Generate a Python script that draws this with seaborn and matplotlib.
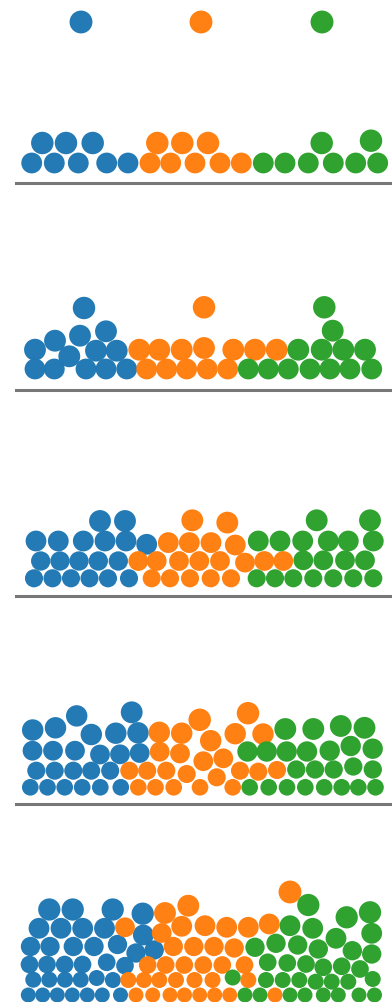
import matplotlib
matplotlib.use("Agg")
import matplotlib.pyplot as plt
import seaborn as sns
import pandas as pd

# Piles of falling balls: each entry is (x position, height above the floor, radius)
# for one ball, grouped by colour and by stage of the pile-up.
top_a = [(81, 23, 11)]
top_b = [(201, 23, 11)]
top_c = [(322, 23, 11)]

pile1_a = [(31.7, 20, 10), (54.3, 20, 10), (78.3, 20, 10), (106.7, 20, 10), (128, 20, 10),
           (42.3, 40, 10.8), (66, 40, 10.8), (92.7, 40, 10.8)]
pile1_b = [(150, 20, 10), (170.7, 20, 10), (195, 20, 10), (220, 20, 10), (241.3, 20, 10),
           (157.3, 40, 10.8), (182.3, 40, 10.8), (208, 40, 10.8)]
pile1_c = [(263.3, 20, 10), (285, 20, 10), (308.3, 20, 10), (333.3, 20, 10), (355.7, 20, 10),
           (377.7, 20, 10), (321.7, 40, 10.8), (371, 42.3, 10.8)]

pile2_a = [(35, 20.5, 10), (54.3, 20.5, 10), (86, 20.5, 10), (106, 20.5, 10), (126.7, 20.5, 10),
           (35, 39.8, 10.5), (69.3, 33.2, 10.5), (96, 38.8, 10.5), (116.7, 38.8, 10.5),
           (55, 48.8, 10.5), (80, 53.8, 10.5), (106, 58.2, 10.5), (84, 81.5, 10.8)]
pile2_b = [(146.7, 20.5, 10), (166.7, 20.5, 10), (186.7, 20.5, 10), (207.3, 20.5, 10), (227.7, 20.5, 10),
           (139.3, 39.8, 10.5), (159.3, 39.8, 10.5), (181.7, 39.8, 10.5), (204, 41.5, 10.5),
           (233.3, 39.8, 10.5), (255, 39.8, 10.5), (276.7, 39.8, 10.5), (204, 82.2, 10.8)]
pile2_c = [(248.3, 20.5, 10), (268.3, 20.5, 10), (288.3, 20.5, 10), (310, 20.5, 10), (330, 20.5, 10),
           (350, 20.5, 10), (371.7, 20.5, 10), (298.3, 39.8, 10.5), (321.7, 39.8, 10.5),
           (343.3, 39.8, 10.5), (365, 39.8, 10.5), (332.7, 58.8, 10.5), (324.3, 82.2, 10.8)]

pile3_a = [(34, 17.7, 8.7), (52.5, 17.7, 8.7), (71, 17.7, 8.7), (89.5, 17.7, 8.7), (108, 17.7, 8.7),
           (129, 17.7, 8.7), (40.7, 35, 9.3), (60, 35, 9.3), (79, 35, 9.3), (98.3, 35, 9.3),
           (118.3, 35, 9.3), (36, 55, 10), (58.3, 55, 10), (83.3, 55, 10), (105, 55, 10),
           (126, 55, 10), (146.7, 51.7, 10), (100, 75, 10.5), (125, 75, 10.5)]
pile3_b = [(151.7, 17.7, 8.7), (170, 17.7, 8.7), (190, 17.7, 8.7), (210.7, 17.7, 8.7), (231, 17.7, 8.7),
           (138.3, 35, 9.5), (156.7, 35, 9.5), (179, 35, 9.5), (199.3, 35, 9.5), (220, 35, 9.5),
           (245, 33.4, 9.5), (264.3, 35, 9.5), (283.3, 35, 9.5), (168.3, 53.4, 10), (189.3, 53.4, 10),
           (211, 53.4, 10), (235.3, 51, 10), (192.3, 75.7, 10.5), (227.3, 73.4, 10.5)]
pile3_c = [(256.7, 17.7, 8.7), (275, 17.7, 8.7), (293.3, 17.7, 8.7), (313.3, 17.7, 8.7),
           (333.3, 17.7, 8.7), (353.3, 17.7, 8.7), (373.3, 17.7, 8.7), (303.3, 35.7, 9.5),
           (323.3, 35.7, 9.5), (345, 35.7, 9.5), (365, 35.7, 9.5), (258.3, 55, 10), (280, 55, 10),
           (302.7, 55, 10), (328.3, 55, 10), (348.3, 55, 10), (373.3, 55, 10),
           (316.7, 75.7, 10.5), (370, 75.7, 10.5)]

pile4_a = [(30.3, 16.7, 8), (47.5, 16.7, 8), (64.7, 16.7, 8), (82.2, 16.7, 8), (100.3, 16.7, 8),
           (120.8, 16.7, 8), (36.3, 33.3, 8.7), (54.7, 33.3, 8.7), (73.3, 33.3, 8.7), (91.2, 33.3, 8.7),
           (110.2, 33.3, 8.7), (32.5, 53.3, 9.5), (53, 53.3, 9.5), (75, 53.3, 9.5), (100, 49.5, 9.5),
           (120, 49.7, 9.5), (139.7, 51, 9.5), (32.7, 74, 10.3), (55.5, 76.2, 10.3), (91.3, 69.5, 10.3),
           (115.8, 70.8, 10.3), (138, 71.2, 10.3), (76.7, 88.1, 10.3), (131.7, 91.7, 10.5)]
pile4_b = [(138.3, 16.7, 8), (155.5, 16.7, 8), (173.7, 16.7, 8), (200, 16.7, 8), (232.7, 16.7, 8),
           (129.3, 33.3, 8.7), (147.2, 33.3, 8.7), (166.3, 33.3, 8.7), (186.7, 30, 8.7),
           (216.7, 26.7, 8.7), (240, 33.3, 8.7), (258.3, 32.3, 8.7), (277, 34, 8.7),
           (159.7, 52.3, 9.5), (180, 50.5, 9.5), (203.3, 42.8, 9.5), (223.3, 45.7, 9.5),
           (159.3, 71.7, 10.3), (181.7, 70.8, 10.3), (210.7, 63.3, 10.3), (235.2, 70.3, 10.3),
           (263, 70, 10.3), (199.7, 84.2, 10.8), (248, 90.8, 10.8)]
pile4_c = [(249.7, 16.7, 8), (268.7, 16.7, 8), (287, 16.7, 8), (305.3, 16.7, 8), (324.2, 16.7, 8),
           (341.7, 16.7, 8), (358.3, 16.7, 8), (375.5, 16.7, 8), (296.3, 34.5, 8.8), (315, 34.5, 8.8),
           (333.7, 34.5, 8.8), (353.3, 37.5, 8.8), (372.8, 34.5, 8.8), (247.5, 52.5, 9.8),
           (266.7, 52.5, 9.8), (286.7, 52.5, 9.8), (307, 52.5, 9.8), (329.7, 53.3, 9.8),
           (350.7, 58, 9.8), (372.7, 55.3, 9.8), (285.3, 75, 10.5), (313.3, 75, 10.5),
           (340.8, 78, 10.5), (364.5, 76.2, 10.5)]

pile5_a = [(28.3, 16, 7.2), (42.7, 16, 7.2), (57.3, 16, 7.2), (72.3, 16, 7.2), (87.3, 16, 7.2),
           (102.3, 16, 7.2), (120.5, 16, 7.2), (33.3, 31.3, 7.7), (49.3, 31.3, 7.7), (65, 31.3, 7.7),
           (80.7, 31.3, 7.7), (96.7, 33, 7.7), (112.9, 31, 7.7), (29.5, 46.5, 8.5), (47, 46.5, 8.5),
           (64.7, 46.5, 8.5), (82.5, 46.5, 8.5), (106.7, 48.7, 8.5), (125, 45.3, 8.5),
           (30.5, 64.5, 9.3), (50, 64.5, 9.3), (73.3, 64.5, 9.3), (94, 64.5, 9.3), (117.5, 66.5, 9.3),
           (136, 58, 9.3), (154.2, 61, 9.3), (39, 82.7, 10), (61, 82.7, 10), (82.7, 82.7, 10),
           (104.5, 82.7, 10), (143.3, 76, 10), (49.3, 101.5, 10.7), (72.7, 101.5, 10.7),
           (112.7, 101.5, 10.7), (142.7, 97.3, 10.7)]
pile5_b = [(136, 16, 7.2), (152.7, 16, 7.2), (170, 16, 7.2), (184.5, 16, 7.2), (199.7, 16, 7.2),
           (214.7, 16, 7.2), (229.7, 16, 7.2), (275, 16, 7.2), (128.3, 31, 7.7), (144, 31, 7.7),
           (159.3, 31, 7.7), (176, 31, 7.7), (194.5, 31, 7.7), (212.5, 31, 7.7), (248.3, 31, 7.7),
           (147.7, 46, 8.5), (165.7, 46, 8.5), (184.3, 46, 8.5), (203.3, 46, 8.5), (222.3, 46, 8.5),
           (244.5, 46, 8.5), (173.3, 64.5, 9.3), (193.8, 64.5, 9.3), (214, 64.5, 9.3),
           (234.2, 63, 9.3), (125, 83.7, 9.5), (161.7, 78, 9.5), (181.7, 84.7, 10), (205, 85.3, 10),
           (226.7, 83.7, 10), (248.3, 83.7, 10), (269.3, 87, 10), (165, 98, 10.5),
           (188.3, 105.3, 10.5), (290, 119, 11)]
pile5_c = [(245, 16, 7.2), (260, 16, 7.2), (290, 16, 7.2), (305, 16, 7.2), (323.3, 16, 7.2),
           (338.3, 16, 7.2), (359, 16, 7.2), (374.5, 16, 7.2), (232.7, 33.5, 7.7), (266, 31, 7.7),
           (282.7, 31, 7.7), (299.3, 31, 7.7), (315.7, 29.3, 7.7), (331.7, 29.3, 7.7),
           (348.3, 29.3, 7.7), (372.7, 32, 7.7), (267.7, 48.7, 8.5), (287.3, 48, 8.5),
           (306, 47, 8.5), (323.3, 43.7, 8.5), (341.7, 44.7, 8.5), (360, 42, 8.5),
           (255, 63.7, 9.3), (276, 67.7, 9.3), (297.7, 66, 9.3), (318.3, 62, 9.3), (352.3, 60.3, 9.3),
           (371.7, 57, 9.3), (290, 85.3, 10), (312.7, 82.7, 10), (336, 72.7, 10), (371.7, 77.7, 10),
           (308.3, 106, 10.7), (346.7, 93.7, 10.7), (370, 98.7, 10.7)]

groups = ["A", "B", "C"]
stages = [
    (top_a, top_b, top_c),
    (pile1_a, pile1_b, pile1_c),
    (pile2_a, pile2_b, pile2_c),
    (pile3_a, pile3_b, pile3_c),
    (pile4_a, pile4_b, pile4_c),
    (pile5_a, pile5_b, pile5_c),
]

palette = dict(zip(groups, sns.color_palette("tab10", 3)))

W, H, DPI = 392, 1003, 100
sns.set_theme(style="white")
fig = plt.figure(figsize=(W / DPI, H / DPI), dpi=DPI)

# floor line of each stage, in pixels from the top of the figure
floors = [46, 184, 390.5, 597, 805, 1012]
left = 16
heights = [46, 200, 200, 200, 200, 200]


def frame(stage):
    rows = []
    for g, balls in zip(groups, stage):
        for x, h, r in balls:
            rows.append({"x": x, "h": h, "r": r, "group": g})
    df = pd.DataFrame(rows)
    # marker area in points^2 for a ball of radius r pixels (slightly padded so
    # neighbouring balls just touch, as in a settled pile)
    df["area"] = (2 * 1.04 * df["r"] * 72 / DPI) ** 2
    return df


for i, stage in enumerate(stages):
    floor, hgt = floors[i], heights[i]
    ax = fig.add_axes([left / W, (H - floor) / H, (W - left) / W, hgt / H])
    df = frame(stage)
    sns.scatterplot(data=df, x="x", y="h", hue="group", palette=palette,
                    s=df["area"].to_numpy(), linewidth=0, alpha=0.98,
                    legend=False, ax=ax, clip_on=False, zorder=3)
    ax.set_xlim(left, W)
    ax.set_ylim(0, hgt)
    ax.set_xticks([])
    ax.set_yticks([])
    ax.set_xlabel("")
    ax.set_ylabel("")
    ax.patch.set_alpha(0)
    for side in ["top", "left", "right"]:
        ax.spines[side].set_visible(False)
    if i == 0:
        ax.spines["bottom"].set_visible(False)
    else:
        ax.spines["bottom"].set_color("#777777")
        ax.spines["bottom"].set_linewidth(2.2)

fig.savefig("out.png", dpi=DPI, facecolor="white")
